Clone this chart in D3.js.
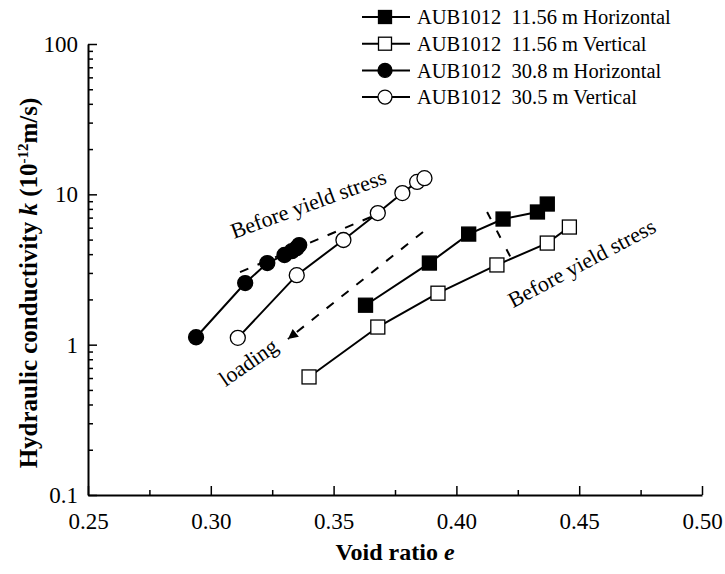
<!DOCTYPE html>
<html>
<head>
<meta charset="utf-8">
<script src="https://cdn.jsdelivr.net/npm/d3@7"></script>
<style>
  body { margin: 0; background: #fff; }
  text { font-family: "Liberation Serif", "Times New Roman", serif; fill: #000; }
</style>
</head>
<body>
<svg id="chart" width="725" height="574"></svg>
<script>
// Void ratio (e) and hydraulic conductivity (k, 1e-12 m/s) per specimen
const eH1156 = [0.363, 0.389, 0.405, 0.419, 0.433, 0.437];
const kH1156 = [1.83, 3.49, 5.44, 6.85, 7.63, 8.62];
const eV1156 = [0.340, 0.368, 0.3925, 0.4165, 0.437, 0.446];
const kV1156 = [0.61, 1.31, 2.20, 3.39, 4.74, 6.06];
const eH308 = [0.294, 0.314, 0.323, 0.330, 0.333, 0.335, 0.336];
const kH308 = [1.12, 2.57, 3.49, 3.95, 4.19, 4.39, 4.60];
const eV305 = [0.311, 0.335, 0.354, 0.368, 0.378, 0.384, 0.387];
const kV305 = [1.11, 2.90, 4.97, 7.51, 10.2, 12.1, 12.8];

const seriesLabels = [
  "AUB1012  11.56 m Horizontal",
  "AUB1012  11.56 m Vertical",
  "AUB1012  30.8 m Horizontal",
  "AUB1012  30.5 m Vertical"
];

// Axis ticks
const xTicks = [0.25, 0.30, 0.35, 0.40, 0.45, 0.50];
const xTickLabels = ["0.25", "0.30", "0.35", "0.40", "0.45", "0.50"];
const xMinorTicks = [0.275, 0.325, 0.375, 0.425, 0.475];
const yTicks = [0.1, 1, 10, 100];
const yTickLabels = ["0.1", "1", "10", "100"];

// Annotation guides in data coordinates [e, k]
const yieldGuideLeft = [[0.3119, 3.04], [0.3681, 7.40]];
const loadingArrow = [[0.3864, 5.62], [0.3314, 1.09]];
const yieldGuideRight = [[0.4125, 7.63], [0.4239, 3.34]];
const noteLeft = { e: 0.3094, k: 5.05, text: "Before yield stress", angle: -20 };
const noteRight = { e: 0.4230, k: 1.75, text: "Before yield stress", angle: -28 };
const noteLoading = { e: 0.3060, k: 0.52, text: "loading", angle: -35 };

const W = 725, H = 574;
const margin = { left: 88, right: 23, top: 44, bottom: 79 };
const serif = "'Liberation Serif','Times New Roman',serif";

const svg = d3.select("#chart");

const x = d3.scaleLinear().domain([0.25, 0.50]).range([margin.left, W - margin.right]);
const y = d3.scaleLog().domain([0.1, 100]).range([H - margin.bottom, margin.top]);

const yMinorTicks = [];
[0.1, 1, 10].forEach(dec => { for (let m = 2; m <= 9; m++) yMinorTicks.push(dec * m); });

// Bottom axis, ticks pointing inward
const gx = svg.append("g").attr("transform", `translate(0,${H - margin.bottom})`);
gx.call(d3.axisBottom(x).tickValues(xTicks)
  .tickFormat((d, i) => xTickLabels[i])
  .tickSizeInner(-9).tickSizeOuter(0).tickPadding(18));
gx.append("g").call(d3.axisBottom(x).tickValues(xMinorTicks)
  .tickFormat("").tickSizeInner(-5).tickSizeOuter(0))
  .select(".domain").remove();

// Left axis, ticks pointing inward
const gy = svg.append("g").attr("transform", `translate(${margin.left},0)`);
gy.call(d3.axisLeft(y).tickValues(yTicks)
  .tickFormat((d, i) => yTickLabels[i])
  .tickSizeInner(-9).tickSizeOuter(0).tickPadding(10));
gy.append("g").call(d3.axisLeft(y).tickValues(yMinorTicks)
  .tickFormat("").tickSizeInner(-5).tickSizeOuter(0))
  .select(".domain").remove();

svg.selectAll(".domain").attr("stroke", "#000").attr("stroke-width", 2);
svg.selectAll(".tick line").attr("stroke", "#000").attr("stroke-width", 1.5);
svg.selectAll("g[font-family]").attr("font-family", serif);
svg.selectAll(".tick text").attr("font-size", 23).attr("font-family", serif).attr("fill", "#000");

// Axis titles
svg.append("text")
  .attr("x", (margin.left + W - margin.right) / 2).attr("y", 560)
  .attr("text-anchor", "middle").attr("font-size", 24).attr("font-weight", "bold")
  .attr("font-family", serif)
  .call(t => {
    t.append("tspan").text("Void ratio ");
    t.append("tspan").attr("font-style", "italic").text("e");
  });

svg.append("text")
  .attr("transform", "translate(37,283) rotate(-90)")
  .attr("text-anchor", "middle").attr("font-size", 25).attr("font-weight", "bold")
  .attr("font-family", serif)
  .call(t => {
    t.append("tspan").text("Hydraulic conductivity ");
    t.append("tspan").attr("font-style", "italic").text("k");
    t.append("tspan").text(" (10");
    t.append("tspan").attr("font-size", 15).attr("dy", -9).text("-12");
    t.append("tspan").attr("dy", 9).text("m/s)");
  });

// Series
const series = [
  { e: eH1156, k: kH1156, shape: "square", fill: "#000" },
  { e: eV1156, k: kV1156, shape: "square", fill: "#fff" },
  { e: eH308, k: kH308, shape: "circle", fill: "#000" },
  { e: eV305, k: kV305, shape: "circle", fill: "#fff" }
];

const line = d3.line().x(d => x(d[0])).y(d => y(d[1]));

function drawMarker(g, shape, fill, cx, cy, size) {
  if (shape === "square") {
    g.append("rect")
      .attr("x", cx - size / 2).attr("y", cy - size / 2)
      .attr("width", size).attr("height", size)
      .attr("fill", fill).attr("stroke", "#000").attr("stroke-width", 1.3);
  } else {
    g.append("circle")
      .attr("cx", cx).attr("cy", cy).attr("r", size / 2)
      .attr("fill", fill).attr("stroke", "#000").attr("stroke-width", 1.3);
  }
}

series.forEach(s => {
  const pts = s.e.map((e, i) => [e, s.k[i]]);
  const g = svg.append("g");
  g.append("path").datum(pts).attr("d", line)
    .attr("fill", "none").attr("stroke", "#000").attr("stroke-width", 2);
  pts.forEach(p => drawMarker(g, s.shape, s.fill, x(p[0]), y(p[1]), s.shape === "square" ? 14 : 15));
});

// Annotations
const guide = d3.line().x(d => x(d[0])).y(d => y(d[1]));
svg.append("path").datum(yieldGuideLeft).attr("d", guide)
  .attr("fill", "none").attr("stroke", "#000").attr("stroke-width", 2).attr("stroke-dasharray", "9,10");
svg.append("path").datum(yieldGuideRight).attr("d", guide)
  .attr("fill", "none").attr("stroke", "#000").attr("stroke-width", 2).attr("stroke-dasharray", "8,13");

svg.append("defs").append("marker")
  .attr("id", "arrowHead").attr("viewBox", "0 0 10 10")
  .attr("refX", 10).attr("refY", 5)
  .attr("markerWidth", 12).attr("markerHeight", 10)
  .attr("markerUnits", "userSpaceOnUse").attr("orient", "auto")
  .append("path").attr("d", "M0,0 L10,5 L0,10 Z").attr("fill", "#000");
svg.append("path").datum(loadingArrow).attr("d", guide)
  .attr("fill", "none").attr("stroke", "#000").attr("stroke-width", 2)
  .attr("stroke-dasharray", "9,10").attr("marker-end", "url(#arrowHead)");

[noteLeft, noteRight, noteLoading].forEach(n => {
  svg.append("text")
    .attr("transform", `translate(${x(n.e)},${y(n.k)}) rotate(${n.angle})`)
    .attr("font-size", 22).attr("font-family", serif).text(n.text);
});

// Legend
const legend = svg.append("g");
series.forEach((s, i) => {
  const ly = 17 + i * 26.7;
  legend.append("line").attr("x1", 362).attr("x2", 410).attr("y1", ly).attr("y2", ly)
    .attr("stroke", "#000").attr("stroke-width", 2);
  drawMarker(legend, s.shape, s.fill, 385, ly, s.shape === "square" ? 13 : 14);
  legend.append("text").attr("x", 417).attr("y", ly).attr("dy", "0.35em")
    .attr("font-size", 20.5).attr("font-family", serif)
    .style("white-space", "pre").text(seriesLabels[i]);
});
</script>
</body>
</html>
